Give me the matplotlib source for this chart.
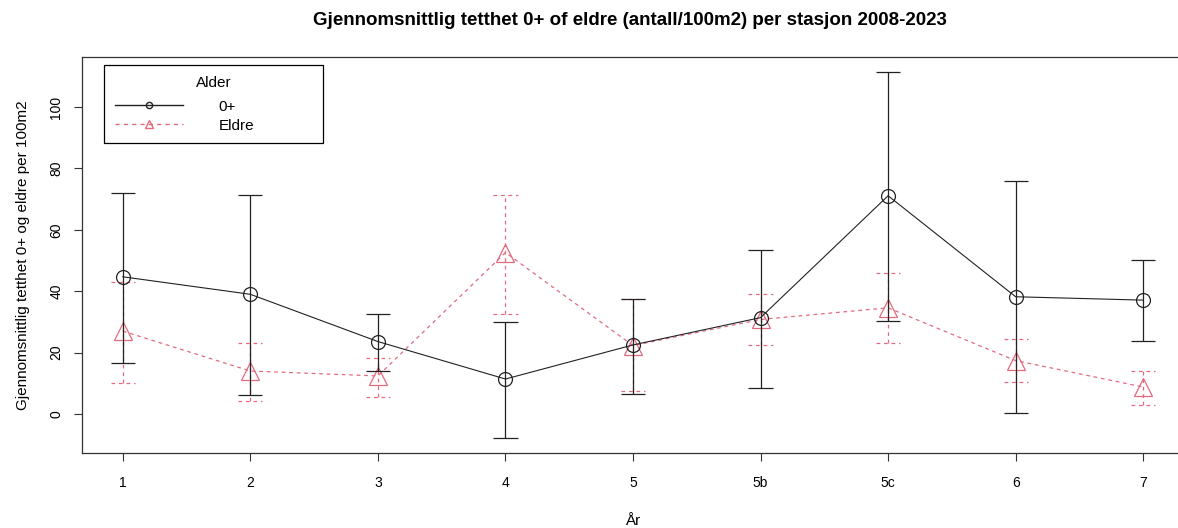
import matplotlib.pyplot as plt
from matplotlib.lines import Line2D
import numpy as np

plt.rcParams['font.family'] = ['Liberation Sans', 'DejaVu Sans']

# stations (x categories)
stasjon = ['1', '2', '3', '4', '5', '5b', '5c', '6', '7']

# 0+ : mean, lower and upper error bar ends
mean_0 = [44.7, 39.0, 23.6, 11.4, 22.5, 31.4, 71.1, 38.2, 37.1]
low_0 = [16.7, 6.1, 14.1, -7.9, 6.4, 8.6, 30.2, 0.2, 23.8]
high_0 = [72.1, 71.4, 32.7, 30.1, 37.4, 53.4, 111.4, 75.9, 50.2]

# eldre : mean, lower and upper error bar ends
mean_e = [27.0, 14.0, 12.4, 52.6, 22.3, 30.8, 34.6, 17.4, 8.8]
low_e = [10.0, 4.3, 5.7, 32.7, 7.4, 22.5, 23.0, 10.3, 2.9]
high_e = [42.9, 23.1, 18.2, 71.5, 37.4, 39.1, 45.8, 24.3, 14.1]

red = '#E36A7E'
dark = '#222222'
x = np.arange(1, len(stasjon) + 1)
cap = 0.095

fig = plt.figure(figsize=(11.78, 5.28), dpi=100)
ax = fig.add_axes([82/1178, 75/528, 1102/1178, 396/528])

# eldre error bars (dashed)
ax.vlines(x, low_e, high_e, color=red, lw=0.9, linestyles=(0, (3, 3)))
ax.hlines(low_e, x - cap, x + cap, color=red, lw=0.9, linestyles=(0, (3, 3)))
ax.hlines(high_e, x - cap, x + cap, color=red, lw=0.9, linestyles=(0, (3, 3)))
ax.plot(x, mean_e, color=red, lw=0.9, dashes=(3, 3), marker='^', ms=13,
        mfc='none', mec=red, mew=0.9)

# 0+ error bars
ax.vlines(x, low_0, high_0, color=dark, lw=0.9)
ax.hlines(low_0, x - cap, x + cap, color=dark, lw=0.9)
ax.hlines(high_0, x - cap, x + cap, color=dark, lw=0.9)
ax.plot(x, mean_0, color=dark, lw=0.8, marker='o', ms=10,
        mfc='none', mec=dark, mew=0.9)

ax.set_xlim(0.68, 9.32)
ax.set_ylim(-12.7, 116.3)
ax.set_xticks(x)
ax.set_xticklabels(stasjon, fontsize=10)
ax.set_yticks([0, 20, 40, 60, 80, 100])
ax.set_yticklabels(['0', '20', '40', '60', '80', '100'], fontsize=10,
                   rotation=90, va='center')
ax.tick_params(axis='both', length=5.5, width=0.8, color='#333333')
ax.tick_params(axis='x', pad=11)
ax.tick_params(axis='y', pad=8)
for s in ax.spines.values():
    s.set_linewidth(0.9)
    s.set_color('#333333')

ax.set_xlabel('År', fontsize=11, labelpad=17)
ax.set_ylabel('Gjennomsnittlig tetthet 0+ og eldre per 100m2', fontsize=11,
              labelpad=14)
fig.suptitle('Gjennomsnittlig tetthet 0+ of eldre (antall/100m2) per stasjon 2008-2023',
             fontsize=13.5, fontweight='bold', x=630/1178, y=0.978)

handles = [
    Line2D([], [], color=dark, lw=1, marker='o', ms=4.5, mfc='none'),
    Line2D([], [], color=red, lw=1, dashes=(3, 3), marker='^', ms=6, mfc='none'),
]
leg = ax.legend(handles, ['0+', 'Eldre'], title='Alder', loc='upper left',
                bbox_to_anchor=(22/1102, 0.98, 219/1102, 0.0), mode='expand',
                fancybox=False, edgecolor='black', framealpha=1, fontsize=11,
                title_fontsize=11, handlelength=4.5, handletextpad=2.3,
                borderpad=0.7, labelspacing=0.33, borderaxespad=0)
leg.get_frame().set_linewidth(0.9)
leg._legend_box.align = 'center'
leg._legend_box.sep = 7.2

fig.savefig('out.png', dpi=100)
